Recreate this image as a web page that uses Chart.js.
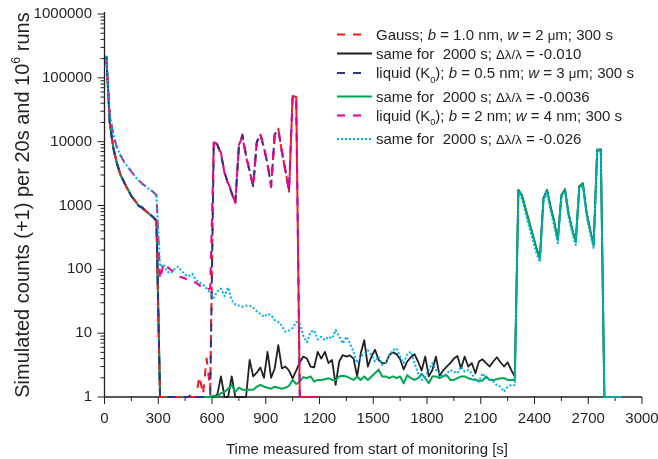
<!DOCTYPE html>
<html>
<head>
<meta charset="utf-8">
<script src="https://cdn.jsdelivr.net/npm/chart.js@4.4.1/dist/chart.umd.min.js"></script>
<style>
html,body{margin:0;padding:0;background:#ffffff;}
#wrap{width:658px;height:459px;}
canvas{display:block;}
</style>
</head>
<body>
<div id="wrap"><canvas id="chart" width="658" height="459"></canvas></div>
<script>
// ---- data: time bins (s) ----
const times = [
  10,30,50,70,90,110,130,150,170,190,
  210,230,250,270,290,310,330,350,370,390,
  410,430,450,470,490,510,530,550,570,590,
  610,630,650,670,690,710,730,750,770,790,
  810,830,850,870,890,910,930,950,970,990,
  1010,1030,1050,1070,1090,1110,1130,1150,1170,1190,
  1210,1230,1250,1270,1290,1310,1330,1350,1370,1390,
  1410,1430,1450,1470,1490,1510,1530,1550,1570,1590,
  1610,1630,1650,1670,1690,1710,1730,1750,1770,1790,
  1810,1830,1850,1870,1890,1910,1930,1950,1970,1990,
  2010,2030,2050,2070,2090,2110,2130,2150,2170,2190,
  2210,2230,2250,2270,2290,2310,2330,2350,2370,2390,
  2410,2430,2450,2470,2490,2510,2530,2550,2570,2590,
  2610,2630,2650,2670,2690,2710,2730,2750,2770,2790,
  2810,2830,2850,2870,2890
];

// Gauss; b = 1.0 nm, w = 2 um; 300 s
const gauss300 = [
  215000,19500,7600,4600,2950,2250,1780,1420,1180,1010,
  910,830,730,650,570,1,1,1,1,1,
  1,1,1,1,1,1,2.1,1.1,4.0,1.3,
  10500,8800,6300,3400,2100,1550,1050,8000,13000,6200,
  3400,2050,9500,13500,7800,4600,1950,12500,16000,6800,
  3600,1650,52000,50000,1,1,1,1,1,1
];
// same for 2000 s; -0.010
const gauss2000 = [
  220000,19000,7800,4500,3000,2300,1800,1400,1200,1000,
  930,820,740,660,580,1,1,1,1,1,
  1,1,1,1,1,1,1,1,1,1,
  1,1.1,2.1,1.0,1.0,2.1,1.0,1.0,1.0,1.0,
  3.8,2.1,2.4,2.9,2.0,5.1,2.0,2.8,6.5,2.8,
  3.0,2.6,1.95,2.6,3.5,4.3,4.0,3.0,2.9,5.1,
  4.0,5.1,3.4,3.8,1.55,3.6,4.55,4.3,4.5,4.0,
  2.1,4.8,7.8,3.0,4.3,5.5,3.8,3.4,3.4,4.55,
  5.0,4.7,3.9,2.7,3.6,4.2,4.7,3.6,2.6,4.3,
  2.1,2.65,4.3,2.15,2.6,3.0,3.4,4.0,4.4,2.8,
  4.3,3.0,3.4,2.35,3.6,3.9,3.4,3.0,3.6,4.2,
  3.5,3.0,3.5,2.65,2.1,1760,1450,900,560,350,
  220,150,1300,1760,950,560,290,1450,1800,750,
  430,270,2000,2230,800,420,240,7500,7600,1,
  1,1,1,1,1
];
// liquid (K0); b = 0.5 nm; w = 3 um; 300 s
const liquidB05_300 = [
  218000,18500,7700,4400,3050,2280,1820,1390,1210,990,
  920,810,745,665,585,1,1,1,1,1,
  1,1,1,1,1.15,1,1,1,1,1,
  10000,9000,6500,3300,2200,1600,1100,8500,12500,6000,
  3500,2000,10000,13000,8000,4500,2000,13000,15500,7000,
  3500,1700,50000,51000,1,1,1,1,1,1
];
// same for 2000 s; -0.0036
const liquidB05_2000 = [
  222000,19200,7900,4550,3000,2320,1790,1410,1190,1000,
  940,815,735,655,578,1,1,1,1,1,
  1,1,1,1,1,1,1,1,1,1,
  1.05,1.0,1.15,1.2,1.35,1.55,1.2,1.4,1.3,1.3,
  1.3,1.3,1.45,1.55,1.45,1.4,1.35,1.45,1.4,1.35,
  1.4,1.5,1.85,1.6,1.75,2.05,1.97,2.1,1.75,1.85,
  1.85,1.9,1.97,1.85,1.85,2.1,2.15,2.1,1.97,1.85,
  2.1,1.85,2.1,1.85,2.1,2.35,2.7,2.1,2.1,1.97,
  2.1,1.97,2.1,1.64,2.2,1.97,1.85,1.97,2.3,1.97,
  1.64,2.1,2.1,1.97,2.1,2.2,1.85,1.85,1.97,2.1,
  2.1,1.97,1.9,1.85,1.8,1.8,2.1,1.85,1.85,1.9,
  1.97,1.97,1.85,1.85,1.85,1740,1430,880,550,345,
  215,148,1280,1740,940,550,285,1430,1780,740,
  425,265,1980,2200,790,415,238,7400,7500,1,
  1,1,1,1,1
];
// liquid (K0); b = 2 nm; w = 4 nm; 300 s
const liquidB2_300 = [
  225000,26000,12500,8000,6000,4800,4100,3400,2900,2500,
  2200,2000,1800,1650,1450,70,125,110,98,90,
  78,75,72,66,62,62,56,52,48,50,
  9800,9200,6700,3200,2250,1650,1100,8800,12000,5800,
  3450,2000,10200,12800,8200,4400,2050,13200,15000,7100,
  3400,1750,49000,51500,1,1,1,1,1,1
];
// same for 2000 s; -0.026
const liquidB2_2000 = [
  222000,27000,12800,8200,6000,4750,4050,3350,2850,2480,
  2180,1980,1790,1640,1460,110,120,92,87,100,
  110,95,82,78,85,68,62,58,50,42,
  36,45,50,38,52,33,28,27,26,27,
  27,25,22,20,18,20,19,16,15,13,
  10.5,11,12,15,14,9,7.2,10.5,11,8,
  8.8,7.8,8.8,8.3,11.2,8.8,6.9,8.8,6.9,5.1,
  3.4,4.3,4.8,5.4,4.55,3.6,4.3,3.2,3.4,4.55,
  5.4,5.8,4.3,3.4,4.8,5.1,3.4,2.35,1.85,2.1,
  2.65,3.4,2.65,2.35,2.1,2.35,2.65,2.5,2.35,3.0,
  2.5,2.65,2.35,1.85,1.75,2.35,1.97,1.85,1.75,1.53,
  1.45,1.21,1.45,1.53,1.53,1600,1250,760,460,290,
  180,130,1150,1600,820,470,255,1300,1650,650,
  380,240,1850,2050,700,370,215,7200,7300,1,
  1,1,1,1,1
];

const xTicks = [0,300,600,900,1200,1500,1800,2100,2400,2700,3000];
const yDecades = [1,10,100,1000,10000,100000,1000000];

const legendLabels = [
  [['Gauss; ',''],['b','i'],[' = 1.0 nm, ',''],['w','i'],[' = 2 ',''],['\u03bc','g'],['m; 300 s','']],
  [['same for  2000 s; ',''],['\u0394\u03bb/\u03bb','g'],[' = -0.010','']],
  [['liquid (K',''],['0','sub'],['); ',''],['b','i'],[' = 0.5 nm; ',''],['w','i'],[' = 3 ',''],['\u03bc','g'],['m; 300 s','']],
  [['same for  2000 s; ',''],['\u0394\u03bb/\u03bb','g'],[' = -0.0036','']],
  [['liquid (K',''],['0','sub'],['); ',''],['b','i'],[' = 2 nm; ',''],['w','i'],[' = 4 nm; 300 s','']],
  [['same for  2000 s; ',''],['\u0394\u03bb/\u03bb','g'],[' = -0.026','']]
];
const yTitle = [['Simulated counts (+1) per 20s and 10',''],['6','sup'],[' runs','']];
const xTitle = [['Time measured from start of monitoring [s]','']];

const FONT = '"Liberation Sans", Arial, Helvetica, sans-serif';

function setPartFont(ctx, st, size) {
  let fs = size, dy = 0, style = '';
  if (st === 'i') style = 'italic ';
  if (st === 'sub') { fs = size * 0.62; dy = size * 0.3; }
  if (st === 'sup') { fs = size * 0.62; dy = -size * 0.42; }
  if (st === 'g') { fs = size * 0.88; }
  ctx.font = style + fs + 'px ' + FONT;
  return dy;
}
function richWidth(ctx, parts, size) {
  let w = 0;
  for (const [t, st] of parts) { setPartFont(ctx, st, size); w += ctx.measureText(t).width; }
  return w;
}
function drawRich(ctx, x, y, parts, size) {
  let cx = x;
  for (const [t, st] of parts) {
    const dy = setPartFont(ctx, st, size);
    ctx.fillText(t, cx, y + dy);
    cx += ctx.measureText(t).width;
  }
}

function pts(vals) { return vals.map((v, i) => ({ x: times[i], y: v })); }

const common = { borderWidth: 2, pointRadius: 0, fill: false, tension: 0, clip: false, borderJoinStyle: 'round' };
const datasets = [
  Object.assign({}, common, { label: 'Gauss 300 s', data: pts(gauss300), borderColor: '#ed1c24', borderDash: [8, 8], borderDashOffset: 0, order: 3 }),
  Object.assign({}, common, { label: 'Gauss 2000 s', data: pts(gauss2000), borderColor: '#231f20', borderWidth: 1.8, order: 5 }),
  Object.assign({}, common, { label: 'liquid b=0.5 300 s', data: pts(liquidB05_300), borderColor: '#2e3192', borderDash: [8, 8], borderDashOffset: 5, order: 2 }),
  Object.assign({}, common, { label: 'liquid b=0.5 2000 s', data: pts(liquidB05_2000), borderColor: '#00a651', order: 4 }),
  Object.assign({}, common, { label: 'liquid b=2 300 s', data: pts(liquidB2_300), borderColor: '#ec008c', borderDash: [8, 8], borderDashOffset: 10.5, order: 1 }),
  Object.assign({}, common, { label: 'liquid b=2 2000 s', data: pts(liquidB2_2000), borderColor: '#00aeef', borderDash: [2, 2], order: 0 })
];

const decor = {
  id: 'decor',
  beforeDatasetsDraw(chart) {
    const { ctx, chartArea: a, scales: { x, y } } = chart;
    ctx.save();
    ctx.strokeStyle = '#231f20';
    ctx.lineWidth = 1.3;
    ctx.beginPath();
    ctx.moveTo(a.left, a.top - 2);
    ctx.lineTo(a.left, a.bottom);
    ctx.lineTo(a.right, a.bottom);
    ctx.stroke();
    ctx.lineWidth = 1;
    ctx.beginPath();
    for (let d = 0; d < yDecades.length; d++) {
      const py = y.getPixelForValue(yDecades[d]);
      ctx.moveTo(a.left - 7, py); ctx.lineTo(a.left, py);
      if (d < yDecades.length - 1) {
        for (let m = 2; m <= 9; m++) {
          const p = y.getPixelForValue(yDecades[d] * m);
          ctx.moveTo(a.left - 4, p); ctx.lineTo(a.left, p);
        }
      }
    }
    for (let i = 0; i < xTicks.length; i++) {
      const px = x.getPixelForValue(xTicks[i]);
      ctx.moveTo(px, a.bottom); ctx.lineTo(px, a.bottom + 7);
      if (i < xTicks.length - 1) {
        const pm = x.getPixelForValue((xTicks[i] + xTicks[i + 1]) / 2);
        ctx.moveTo(pm, a.bottom); ctx.lineTo(pm, a.bottom + 4);
      }
    }
    ctx.stroke();
    ctx.restore();
  },
  afterDraw(chart) {
    const { ctx } = chart;
    ctx.save();
    ctx.fillStyle = '#231f20';
    ctx.textBaseline = 'alphabetic';
    ctx.textAlign = 'left';
    // legend
    const rowY = [34.5, 53.5, 73, 96.5, 115.5, 139];
    const ds = chart.data.datasets;
    for (let i = 0; i < legendLabels.length; i++) {
      const d = ds[i];
      const cy = rowY[i];
      ctx.save();
      ctx.strokeStyle = d.borderColor;
      ctx.lineWidth = d.borderWidth || 2;
      ctx.setLineDash(d.borderDash || []);
      ctx.beginPath();
      const x1 = (d.borderDash && d.borderDash[0] === 8) ? 361.5 : 372;
      ctx.moveTo(337, cy); ctx.lineTo(x1, cy);
      ctx.stroke();
      ctx.restore();
      drawRich(ctx, 376, cy + 5.4, legendLabels[i], 15);
    }
    // y title
    ctx.save();
    ctx.translate(28.5, 205);
    ctx.rotate(-Math.PI / 2);
    const wy = richWidth(ctx, yTitle, 20);
    drawRich(ctx, -wy / 2, 0, yTitle, 20);
    ctx.restore();
    // x title
    const wx = richWidth(ctx, xTitle, 15);
    drawRich(ctx, 367 - wx / 2, 454, xTitle, 15);
    ctx.restore();
  }
};

new Chart(document.getElementById('chart'), {
  type: 'line',
  data: { datasets },
  options: {
    responsive: false,
    devicePixelRatio: 1,
    animation: false,
    events: [],
    layout: { padding: { top: 14, right: 16, left: 0, bottom: 0 } },
    plugins: { legend: { display: false }, tooltip: { enabled: false }, title: { display: false } },
    scales: {
      x: {
        type: 'linear', min: 0, max: 3000,
        grid: { display: false, drawTicks: false },
        border: { display: false },
        ticks: {
          stepSize: 300, autoSkip: false, maxRotation: 0, padding: 13,
          color: '#231f20', font: { family: FONT, size: 15 },
          callback: (v) => String(v)
        },
        afterFit: (s) => { s.height = 62; s.paddingLeft = 0; s.paddingRight = 0; }
      },
      y: {
        type: 'logarithmic', min: 1, max: 1000000,
        grid: { display: false, drawTicks: false },
        border: { display: false },
        ticks: {
          autoSkip: false, padding: 12.5,
          color: '#231f20', font: { family: FONT, size: 15 },
          callback: (v) => {
            const l = Math.log10(v);
            return Math.abs(l - Math.round(l)) < 1e-9 ? String(Math.round(v)) : '';
          }
        },
        afterFit: (s) => { s.width = 104.5; s.paddingTop = 0; s.paddingBottom = 0; }
      }
    }
  },
  plugins: [decor]
});
</script>
</body>
</html>
